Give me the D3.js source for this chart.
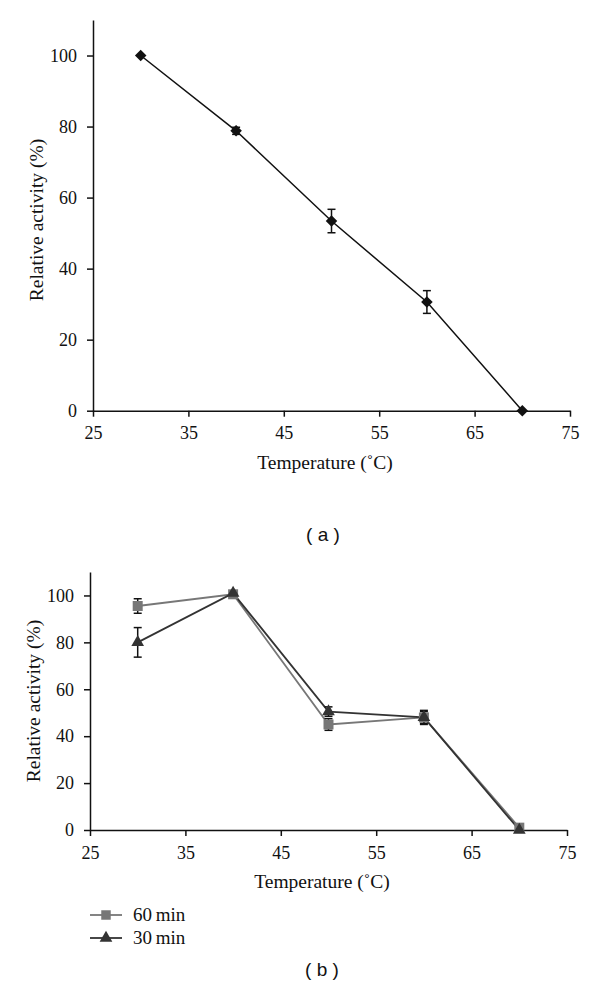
<!DOCTYPE html>
<html><head><meta charset="utf-8">
<script src="https://cdn.jsdelivr.net/npm/d3@7"></script>
<style>body{margin:0;background:#fff}svg{display:block}</style>
</head><body>
<svg id="c" width="600" height="1000"></svg>
<script>
const xTicks = [25,35,45,55,65,75];
const yTicks = [0,20,40,60,80,100];
const tempA = [30,40,50,60,70];
const actA = [100,78.8,53.4,30.6,0];
const errA = [0,1,3.3,3.2,0];
const tempB = [30,40,50,60,70];
const act60 = [95.5,100.5,45,48,1];
const err60 = [3.1,0,2.5,2.5,0];
const act30 = [80,101,50.5,48,0];
const err30 = [6.3,0,2,3,0];
const legendLabels = ["60\u2009min","30\u2009min"];

const svg = d3.select("#c");
const serif = "'Liberation Serif','DejaVu Serif',serif";

function panel(bottom, left, right, yTop) {
  const x = d3.scaleLinear().domain([25,75]).range([left,right]);
  const y = d3.scaleLinear().domain([0,110]).range([bottom,yTop]);
  const g = svg.append("g");
  g.append("g").attr("transform",`translate(0,${bottom})`)
    .call(d3.axisBottom(x).tickValues(xTicks).tickSize(6).tickSizeOuter(0).tickPadding(10))
    .call(a=>a.selectAll("text").attr("font-family",serif).attr("font-size",18).attr("fill","#111"))
    .call(a=>a.selectAll("line,path").attr("stroke","#111").attr("stroke-width",1.5));
  g.append("g").attr("transform",`translate(${left},0)`)
    .call(d3.axisLeft(y).tickValues(yTicks).tickSize(6).tickSizeOuter(0).tickPadding(10))
    .call(a=>a.selectAll("text").attr("font-family",serif).attr("font-size",18).attr("fill","#111"))
    .call(a=>a.selectAll("line,path").attr("stroke","#111").attr("stroke-width",1.5));
  return {x,y,g};
}

function errorBars(g,x,y,xs,vs,es,color){
  xs.forEach((t,i)=>{
    if(!es[i]) return;
    const cx=x(t), y1=y(vs[i]-es[i]), y2=y(vs[i]+es[i]);
    g.append("line").attr("x1",cx).attr("x2",cx).attr("y1",y1).attr("y2",y2).attr("stroke",color).attr("stroke-width",1.5);
    [y1,y2].forEach(yy=>g.append("line").attr("x1",cx-4).attr("x2",cx+4).attr("y1",yy).attr("y2",yy).attr("stroke",color).attr("stroke-width",1.5));
  });
}

// Panel a
{
  const {x,y,g} = panel(410.7,93,570,20);
  const pts = tempA.map((t,i)=>[t,actA[i]]);
  g.append("path").attr("d",d3.line().x(d=>x(d[0])).y(d=>y(d[1]))(pts)).attr("fill","none").attr("stroke","#111").attr("stroke-width",1.5);
  errorBars(g,x,y,tempA,actA,errA,"#111");
  g.selectAll(".m").data(pts).join("path")
    .attr("d",d3.symbol(d3.symbolDiamond2,85)()).attr("transform",d=>`translate(${x(d[0])},${y(d[1])})`).attr("fill","#111");
  svg.append("text").attr("transform","translate(43,220) rotate(-90)").attr("text-anchor","middle")
    .attr("font-family",serif).attr("font-size",19.5).attr("fill","#111").text("Relative activity (%)");
  svg.append("text").attr("x",325).attr("y",469).attr("text-anchor","middle")
    .attr("font-family",serif).attr("font-size",19.5).attr("fill","#111").text("Temperature (\u02DAC)");
  svg.append("text").attr("x",323).attr("y",541).attr("text-anchor","middle")
    .attr("font-family","'Liberation Sans',Arial,sans-serif").attr("font-size",19).attr("fill","#111").text("( a )");
}

// Panel b
{
  const {x,y,g} = panel(830,90,567,572);
  const line = d3.line().x(d=>x(d[0])).y(d=>y(d[1]));
  const p60 = tempB.map((t,i)=>[t,act60[i]]);
  const p30 = tempB.map((t,i)=>[t,act30[i]]);
  g.append("path").attr("d",line(p60)).attr("fill","none").attr("stroke","#777").attr("stroke-width",1.8);
  g.append("path").attr("d",line(p30)).attr("fill","none").attr("stroke","#333").attr("stroke-width",1.8);
  errorBars(g,x,y,tempB,act60,err60,"#111");
  errorBars(g,x,y,tempB,act30,err30,"#111");
  g.selectAll(".s").data(p60).join("path")
    .attr("d",d3.symbol(d3.symbolSquare,100)()).attr("transform",d=>`translate(${x(d[0])},${y(d[1])})`).attr("fill","#777");
  g.selectAll(".t").data(p30).join("path")
    .attr("d",d3.symbol(d3.symbolTriangle,70)()).attr("transform",d=>`translate(${x(d[0])},${y(d[1])})`).attr("fill","#333");
  svg.append("text").attr("transform","translate(40,701) rotate(-90)").attr("text-anchor","middle")
    .attr("font-family",serif).attr("font-size",19.5).attr("fill","#111").text("Relative activity (%)");
  svg.append("text").attr("x",322).attr("y",888).attr("text-anchor","middle")
    .attr("font-family",serif).attr("font-size",19.5).attr("fill","#111").text("Temperature (\u02DAC)");
  const leg = svg.append("g");
  const cols = ["#777","#333"], syms=[d3.symbolSquare,d3.symbolTriangle];
  legendLabels.forEach((lab,i)=>{
    const yy = 915 + i*23;
    leg.append("line").attr("x1",90).attr("x2",122).attr("y1",yy).attr("y2",yy).attr("stroke",cols[i]).attr("stroke-width",1.8);
    leg.append("path").attr("d",d3.symbol(syms[i],i?70:90)()).attr("transform",`translate(106,${yy})`).attr("fill",cols[i]);
    leg.append("text").attr("x",133).attr("y",yy+6).attr("font-family",serif).attr("font-size",19).attr("fill","#111").text(lab);
  });
  svg.append("text").attr("x",322).attr("y",976).attr("text-anchor","middle")
    .attr("font-family","'Liberation Sans',Arial,sans-serif").attr("font-size",19).attr("fill","#111").text("( b )");
}
</script>
</body></html>
